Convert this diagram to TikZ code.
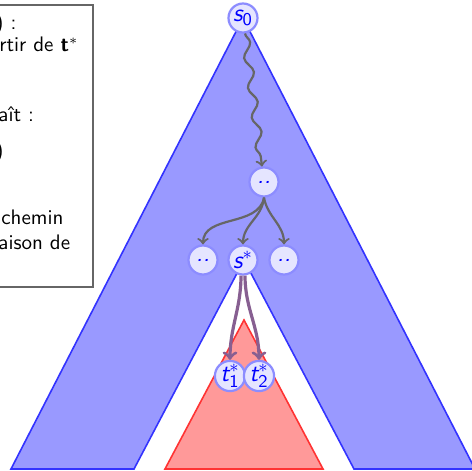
\documentclass[tikz,border=0pt]{standalone}
\usetikzlibrary{decorations.pathmorphing}
\definecolor{pathviolet}{RGB}{135,95,145}
\tikzset{
  state/.style={circle, draw=blue!45, fill=blue!10, line width=1.1pt, minimum size=14.5pt, inner sep=0pt, text=blue, font=\fontsize{12.5}{14}\selectfont\sffamily\itshape},
  flow/.style={->, line width=1.1pt, black!60},
  wavy/.style={flow, decorate, decoration={snake, amplitude=2pt, segment length=15pt, post length=3pt}},
  best/.style={->, line width=1.6pt, pathviolet},
  note/.style={anchor=base west, inner sep=0pt, font=\fontsize{10.5}{12}\selectfont\sffamily},
}
\begin{document}
\begin{tikzpicture}[x=0.5pt, y=0.5pt, line join=miter]
  \useasboundingbox (0,0) rectangle (472,-471);
  \clip (0,0) rectangle (472,-471);
  % search tree and subtree
  \filldraw[fill=blue!40, draw=blue!80, line width=0.8pt] (11,-469) -- (243,-18) -- (475,-469) -- (354,-469) -- (244,-260) -- (134,-469) -- cycle;
  \filldraw[fill=red!40, draw=red!80, line width=0.8pt] (165,-469) -- (244,-320) -- (323,-469) -- cycle;
  % text box
  \draw[black!60, line width=0.9pt, fill=white] (-10,-5) rectangle (93,-287);
  \node[note] (l1) at (-5,-29) {) :};
  \node[note] (l2) at (-1,-52) {rtir de {\bfseries t}$^*$};
  \node[note] (l3) at (-2,-121) {aît :};
  \node[note] (l4) at (-5,-157) {)};
  \node[note] (l5) at (1,-224) {chemin};
  \node[note] (l6) at (-2,-249) {aison de};
  % states
  \node[state] (s0) at (243,-18) {s$_{\mathsf{0}}$};
  \node[state] (mid) at (264,-182) {..};
  \node[state] (c1) at (203,-260) {..};
  \node[state] (sstar) at (243,-260) {s$^*$};
  \node[state] (c3) at (284,-260) {..};
  \node[state] (t1) at (230,-376) {t$^*_{\mathsf{1}}$};
  \node[state] (t2) at (259,-376) {t$^*_{\mathsf{2}}$};
  % moves
  \draw[wavy] (s0) -- (mid);
  \draw[flow] (mid.south) to[out=-100, in=90] (c1.north);
  \draw[flow] (mid.south) to[out=-95, in=90] (sstar.north);
  \draw[flow] (mid.south) to[out=-80, in=90] (c3.north);
  \draw[best] ([xshift=-1pt]sstar.south) to[out=-90, in=90] (t1.north);
  \draw[best] ([xshift=1pt]sstar.south) to[out=-90, in=90] (t2.north);
\end{tikzpicture}
\end{document}
